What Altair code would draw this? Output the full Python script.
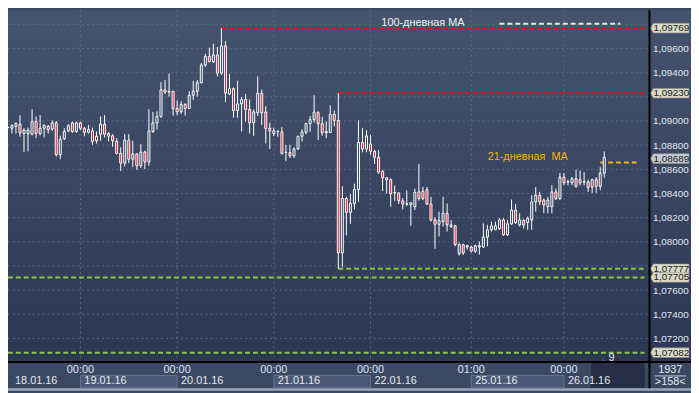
import altair as alt
import pandas as pd

# ---------------- hourly EURUSD candles (index 0 = 18.01.16 06:00) ----------------
opens = [1.08945, 1.08940, 1.08956, 1.08973, 1.08896, 1.08896, 1.08891, 1.08995, 1.08896, 1.08940,
         1.08956, 1.08934, 1.08984, 1.08722, 1.08853, 1.08918, 1.08984, 1.08913, 1.08984, 1.08940,
         1.08907, 1.08918, 1.08836, 1.08891, 1.08973, 1.08874, 1.08877, 1.08831, 1.08732, 1.08651,
         1.08842, 1.08683, 1.08727, 1.08629, 1.08743, 1.08661, 1.08913, 1.08984, 1.09038, 1.09257,
         1.09240, 1.09246, 1.09104, 1.09076, 1.09137, 1.09104, 1.09213, 1.09246, 1.09317, 1.09464,
         1.09535, 1.09491, 1.09546, 1.09396, 1.09622, 1.09224, 1.09268, 1.09087, 1.09142, 1.09177,
         1.09096, 1.08986, 1.09068, 1.09229, 1.09074, 1.08940, 1.08896, 1.08913, 1.08910, 1.08738,
         1.08738, 1.08711, 1.08768, 1.08874, 1.08907, 1.08978, 1.09011, 1.09068, 1.08978, 1.08902,
         1.08904, 1.09055, 1.09005, 1.07908, 1.08358, 1.08244, 1.08318, 1.08432, 1.08823, 1.08768,
         1.08809, 1.08749, 1.08700, 1.08582, 1.08514, 1.08514, 1.08405, 1.08405, 1.08339, 1.08312,
         1.08307, 1.08290, 1.08413, 1.08418, 1.08432, 1.08312, 1.08181, 1.08145, 1.08167, 1.08236,
         1.08126, 1.08132, 1.07902, 1.07976, 1.07957, 1.07957, 1.07922, 1.07957, 1.07957, 1.08039,
         1.08099, 1.08099, 1.08110, 1.08181, 1.08058, 1.08148, 1.08263, 1.08140, 1.08176, 1.08160,
         1.08181, 1.08331, 1.08386, 1.08345, 1.08290, 1.08290, 1.08413, 1.08358, 1.08536, 1.08495,
         1.08489, 1.08522, 1.08487, 1.08495, 1.08495, 1.08454, 1.08514, 1.08459, 1.08569]
highs = [1.08951, 1.08973, 1.08989, 1.09049, 1.08940, 1.08945, 1.09098, 1.09038, 1.09049, 1.08973,
         1.08967, 1.09005, 1.09000, 1.08880, 1.08940, 1.08973, 1.08995, 1.08995, 1.08995, 1.08951,
         1.08967, 1.08945, 1.08913, 1.09038, 1.09049, 1.08907, 1.08891, 1.08858, 1.08782, 1.08891,
         1.08891, 1.08836, 1.08732, 1.08809, 1.08754, 1.09098, 1.09076, 1.09082, 1.09322, 1.09339,
         1.09393, 1.09246, 1.09169, 1.09164, 1.09147, 1.09246, 1.09333, 1.09339, 1.09480, 1.09557,
         1.09606, 1.09639, 1.09612, 1.09769, 1.09661, 1.09388, 1.09278, 1.09333, 1.09197, 1.09224,
         1.09177, 1.09096, 1.09369, 1.09259, 1.09123, 1.08986, 1.08945, 1.08918, 1.08951, 1.08803,
         1.08803, 1.08782, 1.08877, 1.08932, 1.08986, 1.09041, 1.09213, 1.09082, 1.09033, 1.08995,
         1.09131, 1.09087, 1.09230, 1.08459, 1.08372, 1.08394, 1.08481, 1.09005, 1.08940, 1.08924,
         1.08885, 1.08760, 1.08760, 1.08596, 1.08536, 1.08525, 1.08465, 1.08405, 1.08361, 1.08426,
         1.08323, 1.08440, 1.08645, 1.08454, 1.08454, 1.08372, 1.08203, 1.08249, 1.08372, 1.08317,
         1.08181, 1.08140, 1.07995, 1.07984, 1.07976, 1.07968, 1.07976, 1.08003, 1.08154, 1.08140,
         1.08167, 1.08167, 1.08195, 1.08195, 1.08181, 1.08350, 1.08312, 1.08236, 1.08190, 1.08209,
         1.08386, 1.08454, 1.08413, 1.08358, 1.08372, 1.08468, 1.08440, 1.08569, 1.08569, 1.08514,
         1.08536, 1.08596, 1.08590, 1.08577, 1.08514, 1.08522, 1.08536, 1.08618, 1.08749]
lows = [1.08940, 1.08896, 1.08896, 1.08869, 1.08743, 1.08749, 1.08880, 1.08858, 1.08880, 1.08864,
        1.08896, 1.08918, 1.08705, 1.08683, 1.08842, 1.08907, 1.08902, 1.08902, 1.08924, 1.08874,
        1.08896, 1.08803, 1.08814, 1.08836, 1.08864, 1.08831, 1.08787, 1.08722, 1.08585, 1.08623,
        1.08651, 1.08618, 1.08596, 1.08612, 1.08601, 1.08629, 1.08902, 1.08929, 1.09027, 1.09224,
        1.09202, 1.09044, 1.09049, 1.09060, 1.09044, 1.09098, 1.09175, 1.09202, 1.09311, 1.09448,
        1.09486, 1.09480, 1.09369, 1.09382, 1.09158, 1.09213, 1.09027, 1.09027, 1.08913, 1.08995,
        1.08896, 1.08877, 1.09041, 1.08967, 1.08814, 1.08768, 1.08874, 1.08869, 1.08722, 1.08667,
        1.08694, 1.08694, 1.08760, 1.08831, 1.08891, 1.08913, 1.08986, 1.08842, 1.08877, 1.08858,
        1.08904, 1.08956, 1.07777, 1.07793, 1.08053, 1.08148, 1.08268, 1.08331, 1.08741, 1.08741,
        1.08722, 1.08645, 1.08563, 1.08421, 1.08399, 1.08290, 1.08339, 1.08312, 1.08268, 1.08296,
        1.08132, 1.08263, 1.08340, 1.08345, 1.08304, 1.08167, 1.07941, 1.08045, 1.08126, 1.08085,
        1.08113, 1.07963, 1.07886, 1.07891, 1.07935, 1.07913, 1.07908, 1.07894, 1.07949, 1.07963,
        1.08085, 1.08099, 1.08099, 1.08050, 1.08050, 1.08140, 1.08148, 1.08126, 1.08110, 1.08099,
        1.08099, 1.08249, 1.08304, 1.08236, 1.08236, 1.08236, 1.08345, 1.08345, 1.08468, 1.08468,
        1.08468, 1.08448, 1.08468, 1.08468, 1.08413, 1.08405, 1.08405, 1.08427, 1.08530]
closes = [1.08948, 1.08962, 1.08978, 1.08902, 1.08924, 1.08924, 1.08995, 1.08896, 1.08940, 1.08962,
          1.08929, 1.08984, 1.08722, 1.08847, 1.08913, 1.08962, 1.08913, 1.08984, 1.08940, 1.08907,
          1.08929, 1.08831, 1.08874, 1.08973, 1.08891, 1.08896, 1.08836, 1.08732, 1.08651, 1.08842,
          1.08683, 1.08727, 1.08629, 1.08743, 1.08661, 1.08918, 1.08984, 1.09038, 1.09257, 1.09240,
          1.09246, 1.09104, 1.09076, 1.09137, 1.09104, 1.09213, 1.09246, 1.09317, 1.09464, 1.09535,
          1.09491, 1.09546, 1.09396, 1.09622, 1.09232, 1.09268, 1.09087, 1.09142, 1.09177, 1.09096,
          1.08986, 1.09076, 1.09229, 1.09068, 1.08937, 1.08918, 1.08918, 1.08916, 1.08732, 1.08741,
          1.08711, 1.08768, 1.08874, 1.08910, 1.08978, 1.09011, 1.09074, 1.08978, 1.08904, 1.08913,
          1.09055, 1.09005, 1.07908, 1.08358, 1.08244, 1.08318, 1.08432, 1.08823, 1.08768, 1.08877,
          1.08749, 1.08700, 1.08577, 1.08530, 1.08530, 1.08399, 1.08408, 1.08339, 1.08312, 1.08315,
          1.08323, 1.08410, 1.08358, 1.08358, 1.08312, 1.08181, 1.08145, 1.08176, 1.08236, 1.08140,
          1.08140, 1.07976, 1.07976, 1.07908, 1.07968, 1.07922, 1.07968, 1.07968, 1.08039, 1.08099,
          1.08132, 1.08132, 1.08181, 1.08058, 1.08148, 1.08263, 1.08159, 1.08181, 1.08140, 1.08195,
          1.08331, 1.08386, 1.08331, 1.08304, 1.08345, 1.08413, 1.08358, 1.08536, 1.08489, 1.08498,
          1.08522, 1.08459, 1.08514, 1.08498, 1.08448, 1.08514, 1.08459, 1.08569, 1.08700]

# ---------------- axis / annotation values ----------------
grid_levels = [1.070, 1.072, 1.074, 1.076, 1.078, 1.080, 1.082, 1.084, 1.086, 1.088,
               1.090, 1.092, 1.094, 1.096, 1.098]
label_levels = [1.072, 1.074, 1.076, 1.080, 1.082, 1.084, 1.086, 1.088, 1.090, 1.094, 1.096]
day_idx = [18, 42, 66, 90, 115, 138]
time_labels = ["00:00", "00:00", "00:00", "00:00", "01:00", "00:00"]
date_labels = ["18.01.16", "19.01.16", "20.01.16", "21.01.16", "22.01.16", "25.01.16", "26.01.16"]
date_start = [0.8, 18, 42, 66, 90, 115, 138]
date_end = [18, 42, 66, 90, 115, 138, 158]
date_shaded = [False, True, False, True, False, True, False]

level_prices = [1.09769, 1.09230, 1.07777, 1.07705, 1.07082, 1.08656, 1.09806]
level_start = [53, 82, 82, 0, 0, 147, 122]
level_end = [158, 158, 158, 158, 158, 156, 152]
level_colors = ["#e2101e", "#e2101e", "#8dc63f", "#8dc63f", "#8dc63f", "#f7b500", "#e6e8ee"]

tag_prices = [1.09769, 1.09230, 1.08689, 1.07777, 1.07705, 1.07082]
tag_fills = ["#d9d9c8", "#d9d9c8", "#c6cbd4", "#d9d9c8", "#d9d9c8", "#d9d9c8"]

notes = ["100-дневная МА", "21-дневная\u00a0 МА"]
note_idx = [103.0, 129.0]
note_price = [1.09815, 1.08698]
note_colors = ["#f2f2f2", "#f5b400"]

# ---------------- build ----------------
W, H = 649, 356
FONT = "Liberation Sans"
RED = "#e8142c"
HOLLOW = "#34425f"

xs = alt.Scale(domain=[1.256, 158.0], nice=False, zero=False)
ys = alt.Scale(domain=[1.07004, 1.09917], nice=False, zero=False)
yax = alt.Axis(orient="right", values=label_levels, grid=False, ticks=False, domain=False,
               labelExpr="replace(format(datum.value, '.5f'), '.', ',')",
               labelColor="#e2e6ec", labelFont=FONT, labelFontSize=10, labelPadding=3,
               title=None, zindex=1)

candles = pd.DataFrame({"idx": list(range(len(opens))), "open": opens, "high": highs,
                        "low": lows, "close": closes})
candles["fillc"] = [RED if c < o else HOLLOW for o, c in zip(opens, closes)]

grid_df = pd.DataFrame({"price": grid_levels})
vgrid_df = pd.DataFrame({"idx": day_idx, "lab": time_labels})
dates_df = pd.DataFrame({"s": date_start, "e": date_end, "lab": date_labels, "shade": date_shaded})
levels_df = pd.DataFrame({"s": level_start, "e": level_end, "price": level_prices, "c": level_colors})
tags_df = pd.DataFrame({"price": tag_prices, "f": tag_fills,
                        "lab": [format(p, ".5f").replace(".", ",") for p in tag_prices]})
notes_df = pd.DataFrame({"t": notes, "idx": note_idx, "price": note_price, "c": note_colors})

X = lambda f: alt.X(f, scale=xs, axis=None)
Y = lambda f: alt.Y(f, scale=ys, axis=yax)

bg = alt.Chart(pd.DataFrame({"a": [0]})).mark_rect(
    fill={"gradient": "linear", "x1": 0, "y1": 0, "x2": 0, "y2": 1,
          "stops": [{"offset": 0, "color": "#46546f"}, {"offset": 1, "color": "#2c3753"}]}
).encode(x=alt.value(0), x2=alt.value(W + 42), y=alt.value(0), y2=alt.value(H))

hgrid = alt.Chart(grid_df).mark_rule(color="#5a6a88", strokeWidth=1, strokeDash=[2, 3]).encode(
    y=Y("price:Q"), x=alt.value(0), x2=alt.value(W))
vgrid = alt.Chart(vgrid_df).mark_rule(color="#5a6a88", strokeWidth=1, strokeDash=[2, 3]).encode(
    x=X("idx:Q"), y=alt.value(0), y2=alt.value(H))

levels = alt.Chart(levels_df).mark_rule(strokeWidth=2, strokeDash=[5, 3], clip=True).encode(
    x=X("s:Q"), x2="e:Q", y=Y("price:Q"), color=alt.Color("c:N", scale=None))

wicks = alt.Chart(candles).mark_rule(color="white", strokeWidth=1, clip=True).encode(
    x=X("idx:Q"), y=Y("low:Q"), y2="high:Q")
bodies = alt.Chart(candles).mark_bar(size=2, stroke="white", strokeWidth=1, clip=True).encode(
    x=X("idx:Q"), y=Y("open:Q"), y2="close:Q", fill=alt.Fill("fillc:N", scale=None))

note_marks = alt.Chart(notes_df).mark_text(font=FONT, fontSize=11, align="center",
                                           baseline="middle").encode(
    x=X("idx:Q"), y=Y("price:Q"), text="t:N", color=alt.Color("c:N", scale=None))

tag_shape = "M-1,0 L-0.846,-0.25 L1,-0.25 L1,0.25 L-0.846,0.25 Z"
tags = alt.Chart(tags_df).mark_point(shape=tag_shape, size=1521, filled=True, opacity=1,
                                     stroke="#8e8e86", strokeWidth=0.6).encode(
    x=alt.value(W + 20.5), y=Y("price:Q"), fill=alt.Fill("f:N", scale=None))
tag_text = alt.Chart(tags_df).mark_text(font=FONT, fontSize=10, align="left", baseline="middle",
                                        color="#202020").encode(
    x=alt.value(W + 4), y=Y("price:Q"), text="lab:N")

# bottom panel
frame = alt.Chart(pd.DataFrame({"a": [0]})).mark_rect(fill="#9aa6ba").encode(
    x=alt.value(0), x2=alt.value(W + 42), y=alt.value(H + 26.5), y2=alt.value(H + 29))
shade = alt.Chart(dates_df).transform_filter("datum.shade").mark_rect(
    fill="#4a5875", stroke="#67768f", strokeWidth=1).encode(
    x=X("s:Q"), x2="e:Q", y=alt.value(H + 13.5), y2=alt.value(H + 26))
darkbox = alt.Chart(pd.DataFrame({"s": [144.7], "e": [158]})).mark_rect(fill="#262f47").encode(
    x=X("s:Q"), x2="e:Q", y=alt.value(H + 1), y2=alt.value(H + 26))
time_text = alt.Chart(vgrid_df).mark_text(font=FONT, fontSize=11, color="#d8e2f2",
                                          align="center", baseline="middle").encode(
    x=X("idx:Q"), y=alt.value(H + 8.5), text="lab:N")
date_text = alt.Chart(dates_df).mark_text(font=FONT, fontSize=11, color="#e4e8f0", dx=4,
                                          align="left", baseline="middle").encode(
    x=X("s:Q"), y=alt.value(H + 19.5), text="lab:N")
nine = alt.Chart(pd.DataFrame({"idx": [149.8], "t": ["9"]})).mark_text(
    font=FONT, fontSize=11, color="#e4e8f0", baseline="middle").encode(
    x=X("idx:Q"), y=alt.value(H - 4), text="t:N")
tri = alt.Chart(pd.DataFrame({"idx": [147.7]})).mark_point(
    shape="triangle-up", size=18, filled=True, opacity=1, color="#46536c").encode(
    x=X("idx:Q"), y=alt.value(H - 3))
hline = alt.Chart(pd.DataFrame({"a": [0]})).mark_rule(color="#000000", strokeWidth=2).encode(
    x=alt.value(0), x2=alt.value(W + 42), y=alt.value(H))
vline = alt.Chart(pd.DataFrame({"a": [0]})).mark_rule(color="#000000", strokeWidth=2).encode(
    x=alt.value(W), y=alt.value(0), y2=alt.value(H + 26.5))
corner = alt.Chart(pd.DataFrame({"t": ["1937", ">158<"], "yy": [H + 8, H + 20.5]})).mark_text(
    font=FONT, fontSize=11, color="#e4e8f0", align="center", baseline="middle").encode(
    x=alt.value(W + 21), y=alt.Y("yy:Q", scale=None), text="t:N")
corner_sep = alt.Chart(pd.DataFrame({"a": [0]})).mark_rule(color="#c8d0dc", strokeWidth=1).encode(
    x=alt.value(W + 5), x2=alt.value(W + 37), y=alt.value(H + 14))

chart = alt.layer(
    bg, frame, shade, darkbox, hgrid, vgrid, levels, wicks, bodies, note_marks,
    tags, tag_text, time_text, date_text, nine, tri, hline, vline, corner, corner_sep
).properties(
    width=W, height=H,
    padding={"left": 0, "top": 0, "right": 42, "bottom": 29},
    autosize=alt.AutoSizeParams(type="none"),
    background="#3b4862",
).configure_view(strokeWidth=0)

chart.save("out.html", embed_options={"renderer": "svg", "actions": False})
